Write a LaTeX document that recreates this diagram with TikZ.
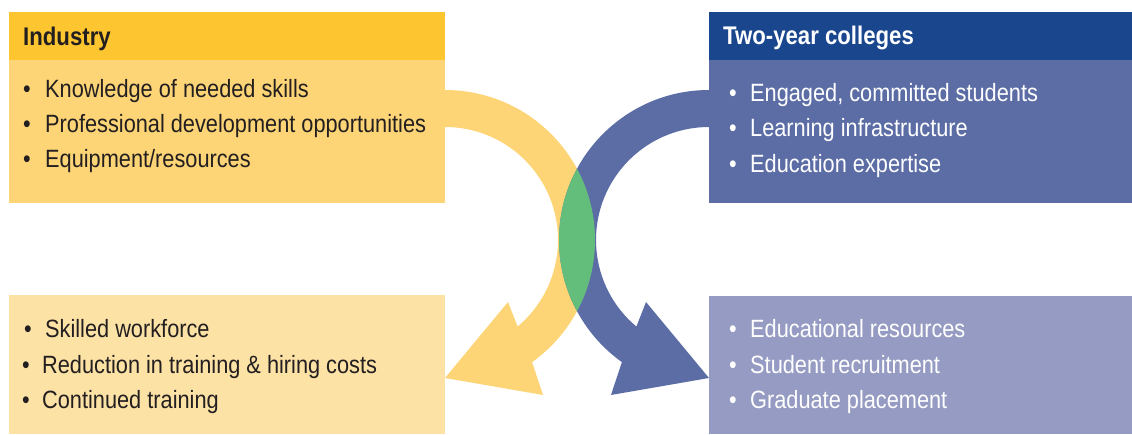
\documentclass[tikz,border=0pt]{standalone}
\usepackage{fontspec}
\setmainfont{Liberation Sans}[FakeStretch=0.87]
\usepackage{tikz}
\usetikzlibrary{calc}

\definecolor{indhead}{HTML}{FDC52F}
\definecolor{indbody}{HTML}{FDD577}
\definecolor{indgain}{HTML}{FDE2A6}
\definecolor{colhead}{HTML}{1A468E}
\definecolor{colbody}{HTML}{5C6DA6}
\definecolor{colgain}{HTML}{959BC2}
\definecolor{overlap}{HTML}{63BE7B}
\definecolor{ink}{HTML}{231F20}

\tikzset{
  title/.style={anchor=base west, inner sep=0pt, font=\bfseries\fontsize{25.5}{30}\selectfont},
  item/.style={anchor=base west, inner sep=0pt, font=\fontsize{25}{30}\selectfont},
}
\newcommand{\bul}[1]{\makebox[#1pt][l]{\textbullet}}

\begin{document}
\begin{tikzpicture}[x=1pt,y=1pt]
	\useasboundingbox (0,0) rectangle (1132,434);

	% Boxes
	\fill[indhead] (9,374) rectangle (445,422);
	\fill[indbody] (9,231) rectangle (445,374);
	\fill[indgain] (9,0) rectangle (445,139);
	\fill[colhead] (709,374) rectangle (1132,422);
	\fill[colbody] (709,231) rectangle (1132,374);
	\fill[colgain] (709,0) rectangle (1132,138);

	% Curved arrows (centres of the arcs)
	\coordinate (yc) at (445,194);
	\coordinate (bc) at (709,194);
	\fill[indbody] (445,344) arc[start angle=90, end angle=-54.5, radius=150]
		-- (543,39) -- (445,56) -- (508,132)
		-- ($(yc)+(-50:113)$) arc[start angle=-50, end angle=90, radius=113] -- cycle;
	\fill[colbody] (709,344) arc[start angle=90, end angle=234.5, radius=150]
		-- (611,39) -- (709,56) -- (646,132)
		-- ($(bc)+(230:113)$) arc[start angle=230, end angle=90, radius=113] -- cycle;

	% Where the two arrows cross
	\begin{scope}
		\clip (yc) circle[radius=150];
		\fill[overlap] (bc) circle[radius=150];
	\end{scope}

	% Titles
	\node[title, text=ink] (indTitle) at (23,388) {Industry};
	\node[title, text=white] (colTitle) at (723,389) {Two-year colleges};

	% Industry gives
	\foreach \y/\txt [count=\i] in {336/Knowledge of needed skills, 301/Professional development opportunities, 266/{Equipment/resources}}
		\node[item, text=ink] (indItem\i) at (23,\y) {\bul{22}\txt};

	% Colleges give
	\foreach \y/\txt [count=\i] in {332/{Engaged, committed students}, 297/Learning infrastructure, 261/Education expertise}
		\node[item, text=white] (colItem\i) at (729,\y) {\bul{21}\txt};

	% Industry gets
	\node[item, text=ink] (indGain1) at (24,97) {\bul{21}Skilled workforce};
	\foreach \y/\txt [count=\i from 2] in {61/Reduction in training \& hiring costs, 26/Continued training}
		\node[item, text=ink] (indGain\i) at (22,\y) {\bul{20}\txt};

	% Colleges get
	\foreach \y/\txt [count=\i] in {97/Educational resources, 61/Student recruitment, 26/Graduate placement}
		\node[item, text=white] (colGain\i) at (729,\y) {\bul{21}\txt};
\end{tikzpicture}
\end{document}
